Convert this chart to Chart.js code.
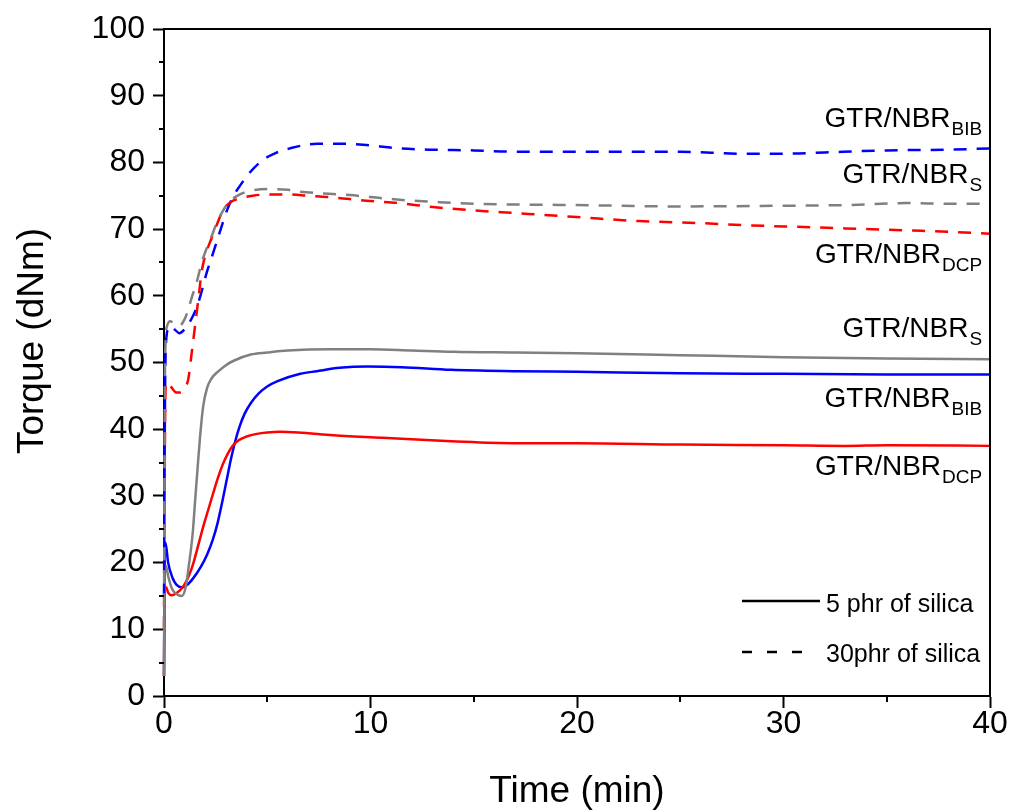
<!DOCTYPE html>
<html>
<head>
<meta charset="utf-8">
<script src="https://cdn.jsdelivr.net/npm/chart.js@4.4.0/dist/chart.umd.min.js"></script>
<style>
html,body{margin:0;padding:0;background:#fff;}
#c{display:block;}
</style>
</head>
<body>
<canvas id="c" width="1011" height="812" style="width:1011px;height:812px"></canvas>
<script>
// ---- Data (time in min, torque in dNm) ----
const timeS5   = [0,0.03,0.1,0.2,0.4,0.6,0.86,1.05,1.2,1.39,1.5,1.63,1.75,1.9,2.1,2.3,2.6,3.0,3.4,4.2,5.0,6.0,8.0,10,12,14,17,20,25,30,35,40];
const torqueS5 = [3,18,19.5,18,16,15.3,15.0,16.3,19.5,24.4,29,34.3,39.0,43.5,46.3,47.6,48.6,49.6,50.3,51.2,51.5,51.8,52.0,52.0,51.8,51.6,51.5,51.4,51.1,50.8,50.6,50.5];

const timeBIB5   = [0,0.03,0.07,0.2,0.4,0.6,0.86,1.1,1.4,1.79,2.1,2.36,2.6,2.84,3.05,3.24,3.45,3.64,3.9,4.2,4.6,5.0,5.5,6.6,7.4,8.5,9.85,11.5,13.9,17,20,25,30,35,40];
const torqueBIB5 = [3,20,23,20,17.8,16.7,16.3,16.6,17.6,19.4,21.3,23.4,26.0,29.4,32.6,35.5,38.2,40.2,42.3,43.9,45.4,46.4,47.2,48.3,48.7,49.2,49.4,49.3,48.9,48.7,48.6,48.4,48.3,48.2,48.2];

const timeDCP5   = [0,0.03,0.1,0.2,0.37,0.6,0.93,1.2,1.42,1.65,1.9,2.15,2.38,2.6,2.87,3.3,3.6,4.0,4.5,5.0,5.6,6.5,8.2,10.6,13.9,17,20,25,30,33,35,40];
const torqueDCP5 = [3,16,16.3,15.5,15.1,15.4,16.4,18,19.9,22.5,25.4,28,30.4,32.6,34.9,37.4,38.3,38.9,39.3,39.5,39.6,39.5,39.1,38.7,38.2,37.9,37.9,37.7,37.6,37.5,37.6,37.5];

const timeS30   = [0,0.05,0.15,0.3,0.5,0.75,1.0,1.17,1.35,1.58,1.82,2.05,2.3,2.55,2.79,3.1,3.5,4.0,5.1,6.0,6.6,8,9,10,11.4,13,15,20,25,30,33,36,38,40];
const torqueS30 = [10,50,55.5,56.2,55.8,55.5,56.5,57.9,59.8,62,64.9,67,68.9,70.9,72.4,73.9,74.9,75.6,76.0,75.9,75.6,75.3,75.1,74.8,74.4,74.1,73.8,73.6,73.4,73.5,73.6,73.9,73.8,73.8];

const timeBIB30   = [0,0.05,0.1,0.2,0.3,0.5,0.75,1.0,1.34,1.6,1.9,2.06,2.23,2.5,2.79,3.05,3.35,3.7,4.0,4.4,4.8,5.4,6.1,7.4,8.5,9.8,11.4,13,15,17,20,23,25,28,30,32,35,38,40];
const torqueBIB30 = [15,45,53,55,55.5,55,54.4,55,56.6,58.4,61.5,63.4,65,67.6,70.4,72.8,74.9,76.6,77.9,79.3,80.4,81.4,82.1,82.8,82.8,82.6,82.1,81.9,81.8,81.6,81.6,81.6,81.6,81.3,81.3,81.5,81.8,81.9,82.1];

const timeDCP30   = [0,0.05,0.1,0.3,0.6,0.8,1.0,1.17,1.34,1.5,1.66,1.82,1.95,2.1,2.3,2.6,2.87,3.2,3.68,4.3,5.0,6.0,7.0,8,9,10,11.4,13,15,17,20,23,26,28,30,33,36,38,40];
const torqueDCP30 = [10,40,47,46.5,45.5,45.5,46.3,47.4,51.4,55.4,59.4,63.5,65.5,67,68.6,71,72.9,74,74.6,75,75.2,75.2,75.0,74.8,74.5,74.2,73.9,73.3,72.8,72.4,71.8,71.2,70.9,70.6,70.4,70.1,69.8,69.6,69.3];

const xTicks = [0,10,20,30,40];
const yTicks = [0,10,20,30,40,50,60,70,80,90,100];

const seriesNames = ['GTR/NBR', 'GTR/NBR', 'GTR/NBR', 'GTR/NBR', 'GTR/NBR', 'GTR/NBR'];
const seriesSubs  = ['BIB', 'S', 'DCP', 'S', 'BIB', 'DCP'];
const legendLabels = ['5 phr of silica', '30phr of silica'];
const xTitle = 'Time (min)';
const yTitle = 'Torque (dNm)';

// ---- styling / layout (kept separate from data) ----
const FONT = "'Liberation Sans', Arial, Helvetica, sans-serif";
const BLUE = '#0000ff', RED = '#ff0000', GRAY = '#808080';
const DASH = [13, 10];
const labelY = [85.35, 76.87, 64.92, 53.87, 43.28, 33.13]; // annotation baselines in data units
const labelRightX = 39.62;

function pts(t, v){ return t.map((x,i)=>({x:x, y:v[i]})); }
function ds(t, v, color, dashed){
  return { data: pts(t,v), borderColor: color, borderWidth: 2.5, borderDash: dashed ? DASH : [],
           pointRadius: 0, fill: false, cubicInterpolationMode: 'monotone', clip: 2 };
}

const decor = {
  id: 'decor',
  afterDraw(chart){
    const c = chart.ctx, a = chart.chartArea;
    const xs = chart.scales.x, ys = chart.scales.y;
    c.save();
    // frame (top & right)
    c.strokeStyle = '#000'; c.lineWidth = 2; c.setLineDash([]);
    c.beginPath();
    c.moveTo(a.left, a.top); c.lineTo(a.right, a.top); c.lineTo(a.right, a.bottom);
    c.stroke();
    // minor ticks
    c.lineWidth = 2;
    c.beginPath();
    for (let v = 5; v < 100; v += 10){ const y = Math.round(ys.getPixelForValue(v)); c.moveTo(a.left - 5, y); c.lineTo(a.left, y); }
    for (let v = 5; v < 40; v += 10){ const x = Math.round(xs.getPixelForValue(v)); c.moveTo(x, a.bottom); c.lineTo(x, a.bottom + 6); }
    c.stroke();
    // axis titles
    c.fillStyle = '#000';
    c.font = '37px ' + FONT;
    c.textAlign = 'center'; c.textBaseline = 'alphabetic';
    c.fillText(xTitle, (a.left + a.right)/2, 802);
    c.save();
    c.translate(43, 341); c.rotate(-Math.PI/2);
    c.fillText(yTitle, 0, 0);
    c.restore();
    // curve annotations
    const xr = xs.getPixelForValue(labelRightX);
    for (let i = 0; i < seriesNames.length; i++){
      const yb = ys.getPixelForValue(labelY[i]);
      c.font = '19px ' + FONT; c.textAlign = 'right';
      const sw = c.measureText(seriesSubs[i]).width;
      c.fillText(seriesSubs[i], xr, yb + 8);
      c.font = '28px ' + FONT;
      c.fillText(seriesNames[i], xr - sw - 1, yb);
    }
    // legend
    c.strokeStyle = '#000'; c.lineWidth = 2.5;
    c.beginPath(); c.moveTo(742, 601); c.lineTo(820, 601); c.stroke();
    c.setLineDash([10, 15]);
    c.beginPath(); c.moveTo(742, 652); c.lineTo(805, 652); c.stroke();
    c.setLineDash([]);
    c.font = '25px ' + FONT; c.textAlign = 'left';
    c.fillText(legendLabels[0], 826, 612);
    c.fillText(legendLabels[1], 826, 662);
    c.restore();
  }
};

new Chart(document.getElementById('c'), {
  type: 'line',
  data: {
    datasets: [
      ds(timeS30, torqueS30, GRAY, true),
      ds(timeDCP30, torqueDCP30, RED, true),
      ds(timeBIB30, torqueBIB30, BLUE, true),
      ds(timeS5, torqueS5, GRAY, false),
      ds(timeDCP5, torqueDCP5, RED, false),
      ds(timeBIB5, torqueBIB5, BLUE, false)
    ]
  },
  options: {
    responsive: false, animation: false, devicePixelRatio: 1,
    layout: { padding: { top: 29, right: 21, left: 0, bottom: 0 } },
    plugins: { legend: { display: false }, tooltip: { enabled: false } },
    scales: {
      x: {
        type: 'linear', min: 0, max: 40,
        afterBuildTicks: s => { s.ticks = xTicks.map(v => ({value: v})); },
        ticks: { font: { family: FONT, size: 32, lineHeight: 1 }, color: '#000', padding: 0, maxRotation: 0, autoSkip: false },
        grid: { drawOnChartArea: false, drawTicks: true, tickLength: 12, tickColor: '#000', tickWidth: 2 },
        border: { color: '#000', width: 2 },
        afterFit: s => { s.height = 116; }
      },
      y: {
        type: 'linear', min: 0, max: 100,
        afterBuildTicks: s => { s.ticks = yTicks.map(v => ({value: v})); },
        ticks: { font: { family: FONT, size: 32, lineHeight: 1 }, color: '#000', padding: 8, autoSkip: false },
        grid: { drawOnChartArea: false, drawTicks: true, tickLength: 11, tickColor: '#000', tickWidth: 2 },
        border: { color: '#000', width: 2 },
        afterFit: s => { s.width = 164; }
      }
    }
  },
  plugins: [decor]
});
</script>
</body>
</html>
